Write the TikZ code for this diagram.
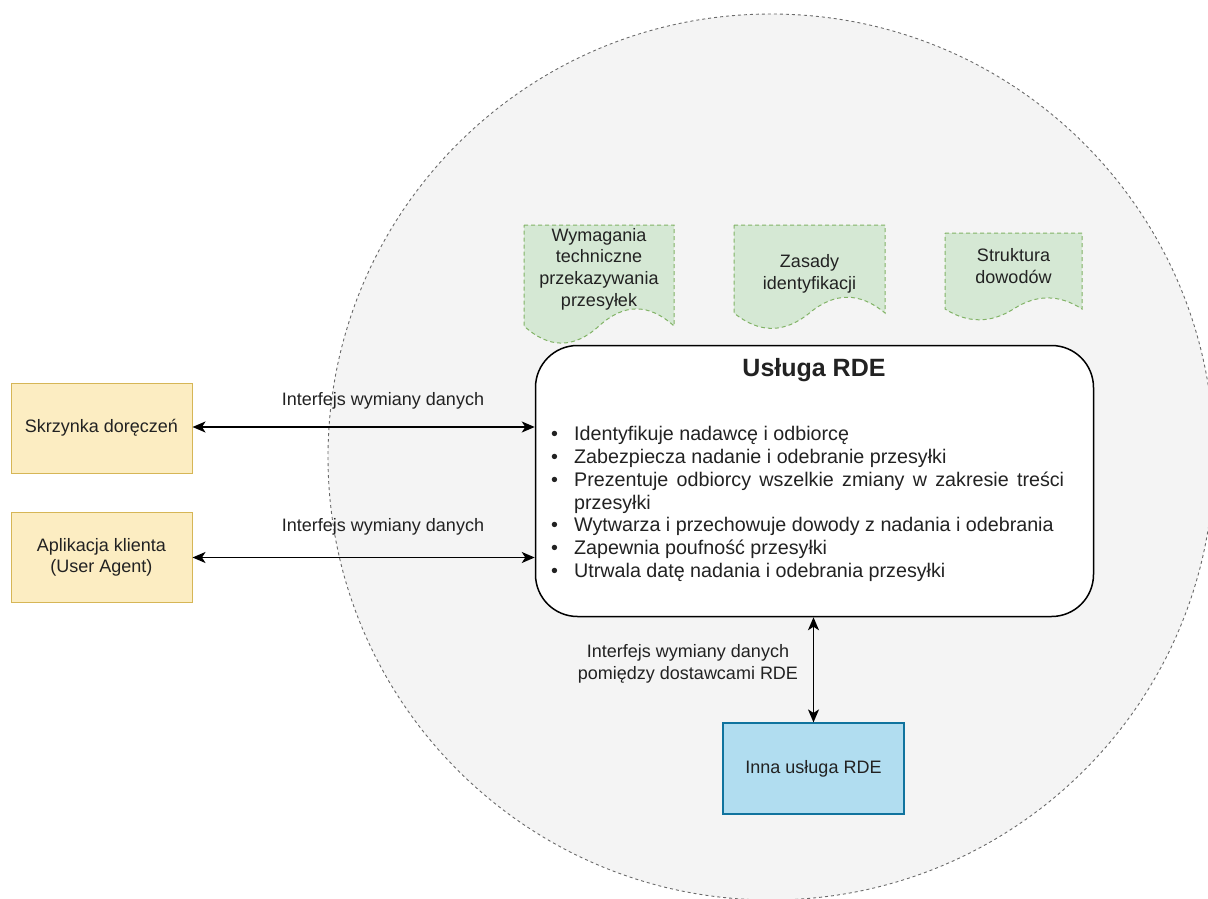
\documentclass[tikz,border=0pt]{standalone}
\usepackage{fontspec}
\setmainfont{Liberation Sans}
\usetikzlibrary{arrows.meta}
\definecolor{circfill}{HTML}{F4F4F4}
\definecolor{circline}{HTML}{6A6A6A}
\definecolor{yfill}{HTML}{FCEDC2}
\definecolor{yline}{HTML}{D6B656}
\definecolor{gfill}{HTML}{D5E8D4}
\definecolor{gline}{HTML}{82B366}
\definecolor{bfill}{HTML}{B1DDF0}
\definecolor{bline}{HTML}{10739E}
\definecolor{txt}{HTML}{222222}
\tikzset{
  lbl/.style={font=\fontsize{18}{21.6}\selectfont, text=txt, align=center, inner sep=0pt},
  ybox/.style={draw=yline, fill=yfill, line width=1pt, minimum width=181pt, minimum height=90pt, lbl},
  bbox/.style={draw=bline, fill=bfill, line width=1.2pt, minimum width=181pt, minimum height=91pt, lbl},
  docshape/.style={draw=gline, fill=gfill, line width=1pt, dash pattern=on 4pt off 3pt},
  conn/.style={line width=1.5pt, {Stealth[length=13pt,width=11pt,inset=3.5pt]}-{Stealth[length=13pt,width=11pt,inset=3.5pt]}},
}
\newcommand\bulitem{\par\noindent\hangindent=23pt\hangafter=1\makebox[23pt][l]{\textbullet}}
\begin{document}
\begin{tikzpicture}[x=1pt,y=-1pt]
\useasboundingbox (0,0) rectangle (1208,899);
\begin{scope}
  \clip (0,0) rectangle (1208,899);
  \draw[fill=circfill, draw=circline, line width=0.9pt, dash pattern=on 3pt off 3pt] (771,457) circle [radius=443pt];
\end{scope}
% documents
\draw[docshape] (524,225) -- (674,225) -- (674,326) .. controls (649,303.2) and (624,303.2) .. (599,326) .. controls (574,348.8) and (549,348.8) .. (524,326) -- cycle;
\node[lbl] (d1) at (599,269) {Wymagania\\techniczne\\przekazywania\\przesyłek};
\draw[docshape] (734,225) -- (885,225) -- (885,313) .. controls (859.8,292) and (834.7,292) .. (809.5,313) .. controls (784.3,333.5) and (759.2,333.5) .. (734,313) -- cycle;
\node[lbl] (d2) at (809.5,274) {Zasady\\identyfikacji};
\draw[docshape] (945,233) -- (1082,233) -- (1082,309) .. controls (1059.2,294.2) and (1036.3,294.2) .. (1013.5,309) .. controls (990.7,323.4) and (967.8,323.4) .. (945,309) -- cycle;
\node[lbl] (d3) at (1013.5,266) {Struktura\\dowodów};
% main box
\node[draw=black, fill=white, line width=1.5pt, rounded corners=42pt, minimum width=558pt, minimum height=271pt, inner sep=0pt] (rde) at (814.5,481) {};
\node[font=\fontsize{25}{30}\selectfont\bfseries, text=txt, inner sep=0pt] (title) at (814,370) {Usługa RDE};
\node[anchor=north west, inner sep=0pt, text width=513pt, align=justify, text=txt, font=\fontsize{19.7}{22.7}\selectfont] (list) at (551,418) {%
\bulitem Identyfikuje nadawcę i odbiorcę
\bulitem Zabezpiecza nadanie i odebranie przesyłki
\bulitem Prezentuje odbiorcy wszelkie zmiany w zakresie treści przesyłki
\bulitem Wytwarza i przechowuje dowody z nadania i odebrania
\bulitem Zapewnia poufność przesyłki
\bulitem Utrwala datę nadania i odebrania przesyłki\par};
% side boxes
\node[ybox] (skr) at (101.5,428) {Skrzynka doręczeń};
\node[ybox] (app) at (101.5,557.5) {Aplikacja klienta\\(User Agent)};
\node[bbox] (inna) at (813.5,768.5) {Inna usługa RDE};
% connectors
\draw[conn] ([yshift=1pt]skr.east) -- ([yshift=1pt]skr.east -| rde.west);
\node[lbl] (l1) at (383,401) {Interfejs wymiany danych};
\draw[conn] (app.east) -- (app.east -| rde.west);
\node[lbl] (l2) at (383,527) {Interfejs wymiany danych};
\draw[conn] (rde.south -| inna.north) -- (inna.north);
\node[lbl] (l3) at (688,664) {Interfejs wymiany danych\\pomiędzy dostawcami RDE};
\end{tikzpicture}
\end{document}
